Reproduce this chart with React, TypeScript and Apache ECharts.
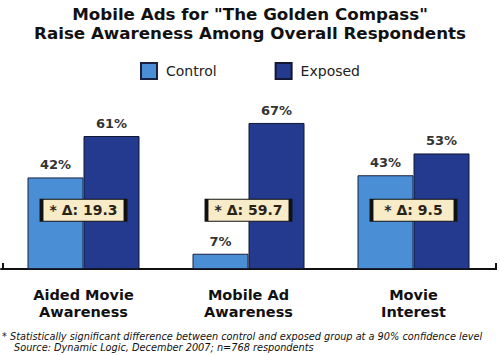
import React, { useEffect, useRef } from "react";
import * as echarts from "echarts";

const categories = ["Aided Movie\nAwareness", "Mobile Ad\nAwareness", "Movie\nInterest"];
const controlValues = [42, 7, 43];
const exposedValues = [61, 67, 53];
const deltaValues = [19.3, 59.7, 9.5];
const deltaLabelLevel = [27, 27, 27];

const FONT = "DejaVu Sans";

export default function App() {
  const ref = useRef<HTMLDivElement>(null);
  useEffect(() => {
    if (!ref.current) return;
    const chart = echarts.init(ref.current, undefined, { renderer: "svg" });
    chart.setOption({
      animation: false,
      backgroundColor: "#ffffff",
      textStyle: { fontFamily: FONT },
      title: {
        text: 'Mobile Ads for "The Golden Compass"\nRaise Awareness Among Overall Respondents',
        left: "center",
        top: -1,
        textStyle: { fontSize: 16.7, fontWeight: "bold", color: "#111", lineHeight: 19, fontFamily: FONT },
      },
      legend: {
        data: ["Control", "Exposed"],
        top: 57,
        left: "center",
        itemWidth: 16,
        itemHeight: 16,
        itemGap: 58,
        textStyle: { fontSize: 14, color: "#222", fontFamily: FONT, padding: [0, 0, 0, 4] },
        icon: "rect",
      },
      grid: { left: 1, right: 4, top: 51, bottom: 86, containLabel: false },
      xAxis: {
        type: "category",
        data: categories,
        axisLine: { lineStyle: { color: "#111", width: 2 } },
        axisTick: { show: false },
        axisLabel: {
          fontSize: 14.5,
          fontWeight: "bold",
          color: "#111",
          lineHeight: 17,
          margin: 17,
          fontFamily: FONT,
        },
      },
      yAxis: { type: "value", min: 0, max: 100, show: false, splitLine: { show: false } },
      series: [
        {
          name: "Control",
          type: "bar",
          data: controlValues,
          barWidth: 56,
          barGap: "0%",
          itemStyle: { color: "#4a8fd6", borderColor: "#1a2040", borderWidth: 1 },
          label: {
            show: true,
            position: "top",
            distance: 6,
            formatter: "{c}%",
            fontSize: 13,
            fontWeight: "bold",
            color: "#333",
            fontFamily: FONT,
          },
        },
        {
          name: "Exposed",
          type: "bar",
          data: exposedValues,
          barWidth: 56,
          barGap: "0%",
          itemStyle: { color: "#233a8f", borderColor: "#111833", borderWidth: 1 },
          label: {
            show: true,
            position: "top",
            distance: 6,
            formatter: "{c}%",
            fontSize: 13,
            fontWeight: "bold",
            color: "#333",
            fontFamily: FONT,
          },
        },
        {
          name: "delta",
          type: "scatter",
          data: deltaLabelLevel,
          symbol: "rect",
          symbolSize: [84, 22],
          itemStyle: { color: "#f8ecc8", borderColor: "#111", borderWidth: 2, opacity: 1 },
          z: 10,
          emphasis: { disabled: true },
          label: {
            show: true,
            position: "inside",
            formatter: (p: any) => "* \u0394: " + deltaValues[p.dataIndex],
            fontSize: 14,
            fontWeight: "bold",
            color: "#2a2418",
            fontFamily: FONT,
          },
        },
      ],
      graphic: [
        { type: "line", shape: { x1: 3, y1: 263, x2: 3, y2: 270 }, style: { stroke: "#111", lineWidth: 2 } },
        { type: "line", shape: { x1: 496, y1: 263, x2: 496, y2: 270 }, style: { stroke: "#111", lineWidth: 2 } },
        {
          type: "text",
          left: 2,
          top: 331,
          style: {
            text: "* Statistically significant difference between control and exposed group at a 90% confidence level",
            font: "italic 9.75px 'DejaVu Sans'",
            fill: "#111",
          },
        },
        {
          type: "text",
          left: 14,
          top: 342,
          style: {
            text: "Source: Dynamic Logic, December 2007; n=768 respondents",
            font: "italic 9.75px 'DejaVu Sans'",
            fill: "#111",
          },
        },
      ],
    });
    return () => chart.dispose();
  }, []);
  return (
    <div
      ref={ref}
      style={{ position: "fixed", left: 0, top: 0, width: 500, height: 355 }}
    />
  );
}
